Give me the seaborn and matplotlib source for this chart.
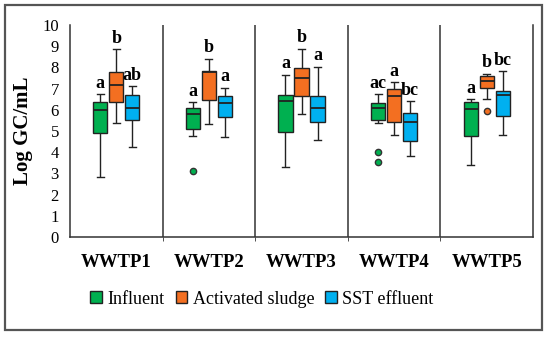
import matplotlib
matplotlib.use("Agg")
import matplotlib.pyplot as plt
from matplotlib.patches import Patch, Rectangle
import seaborn as sns
import pandas as pd

plants = ["WWTP1", "WWTP2", "WWTP3", "WWTP4", "WWTP5"]
sources = ["Influent", "Activated sludge", "SST effluent"]
colors = ["#00b050", "#f36f21", "#00b0f0"]

# five-number summaries, one list per sample type (plant order)
influent_low = [2.83, 4.75, 3.30, 5.38, 3.40]
influent_q1 = [4.91, 5.10, 4.95, 5.50, 4.78]
influent_med = [5.98, 5.80, 6.41, 6.08, 6.04]
influent_q3 = [6.38, 6.10, 6.68, 6.30, 6.35]
influent_high = [6.74, 6.35, 7.64, 6.73, 6.50]
influent_out = [[], [3.10], [], [4.00, 3.55], []]

sludge_low = [5.40, 5.35, 5.82, 4.80, 6.50]
sludge_q1 = [6.36, 6.47, 6.67, 5.44, 7.04]
sludge_med = [7.17, 7.78, 7.48, 6.67, 7.36]
sludge_q3 = [7.78, 7.85, 7.97, 7.00, 7.58]
sludge_high = [8.85, 8.40, 8.88, 7.30, 7.70]
sludge_out = [[], [], [], [], [5.96]]

sst_low = [4.25, 4.72, 4.59, 3.84, 4.80]
sst_q1 = [5.50, 5.66, 5.42, 4.53, 5.69]
sst_med = [6.10, 6.32, 6.08, 5.44, 6.68]
sst_q3 = [6.70, 6.63, 6.63, 5.86, 6.90]
sst_high = [7.10, 7.05, 8.02, 6.41, 7.81]
sst_out = [[], [], [], [], []]

letters_influent = ["a", "a", "a", "ac", "a"]
letters_sludge = ["b", "b", "b", "a", "b"]
letters_sst = ["ab", "a", "a", "bc", "bc"]

summaries = [
    (influent_low, influent_q1, influent_med, influent_q3, influent_high, influent_out),
    (sludge_low, sludge_q1, sludge_med, sludge_q3, sludge_high, sludge_out),
    (sst_low, sst_q1, sst_med, sst_q3, sst_high, sst_out),
]
letters = [letters_influent, letters_sludge, letters_sst]

# expand each summary into 13 values whose quartiles reproduce the summary
rows = []
for src, (lo, q1, med, q3, hi, out) in zip(sources, summaries):
    for i, p in enumerate(plants):
        k = len(out[i])
        vals = out[i] + [lo[i]] + [q1[i]] * (4 - k) + [med[i]] * 3 + [q3[i]] * 4 + [hi[i]]
        rows += [{"Plant": p, "Source": src, "Log GC/mL": v} for v in vals]
df = pd.DataFrame(rows)

plt.rcParams["font.family"] = ["Liberation Serif", "DejaVu Serif"]
fig = plt.figure(figsize=(5.5, 3.39), dpi=100)
ax = fig.add_axes([70 / 550, 1 - 237 / 339, 463 / 550, 212 / 339])

width = 0.52
sns.boxplot(data=df, x="Plant", y="Log GC/mL", hue="Source", order=plants, hue_order=sources,
            palette=colors, width=width, gap=0.12, saturation=1, linewidth=1.0, linecolor="#222222",
            whis=1.5, legend=False, ax=ax,
            flierprops={"marker": "o", "markersize": 4.5, "markeredgecolor": "#333333"},
            medianprops={"linewidth": 1.3})

# colour the outlier dots like their box
step = width / 3
for line in ax.lines:
    xs = line.get_xdata()
    if line.get_marker() == "o" and len(xs) > 0:
        off = xs[0] - round(xs[0])
        j = int(round(off / step)) + 1
        line.set_markerfacecolor(colors[j])

for j in range(3):
    for i in range(len(plants)):
        ax.text(i + (j - 1) * step, summaries[j][4][i] + 0.12, letters[j][i], ha="center", va="bottom",
                fontsize=13, fontweight="bold")

for s in [0.5, 1.5, 2.5, 3.5]:
    ax.axvline(s, color="#333333", linewidth=1.1, zorder=0)

ax.set_xlim(-0.5, 4.5)
ax.set_ylim(0, 10)
ax.set_yticks(range(0, 11))
ax.spines["top"].set_visible(False)
for sp in ["left", "bottom", "right"]:
    ax.spines[sp].set_color("#333333")
    ax.spines[sp].set_linewidth(1.1)
ax.set_xticks([0.5, 1.5, 2.5, 3.5], minor=True)
ax.tick_params(axis="x", which="minor", length=3, color="#333333")
ax.tick_params(axis="x", which="major", length=0, pad=12, labelsize=13.5)
ax.tick_params(axis="y", length=0, pad=8, labelsize=12)
for lab in ax.get_xticklabels():
    lab.set_fontweight("bold")
ax.set_xlabel("")
ax.set_ylabel("Log GC/mL", fontsize=15, fontweight="bold", labelpad=7)

handles = [Patch(facecolor=c, edgecolor="#222222", label=s) for c, s in zip(colors, sources)]
fig.legend(handles=handles, loc="center", bbox_to_anchor=(262 / 550, 1 - 299 / 339), ncol=3,
           frameon=False, fontsize=13, handlelength=0.65, handleheight=0.65,
           handletextpad=0.3, columnspacing=0.6)

fig.patches.append(Rectangle((5 / 550, 1 - 330 / 339), 537 / 550, 325 / 339, transform=fig.transFigure,
                             fill=False, edgecolor="#555555", linewidth=1.6))

fig.savefig("out.png", dpi=100)
plt.close(fig)
